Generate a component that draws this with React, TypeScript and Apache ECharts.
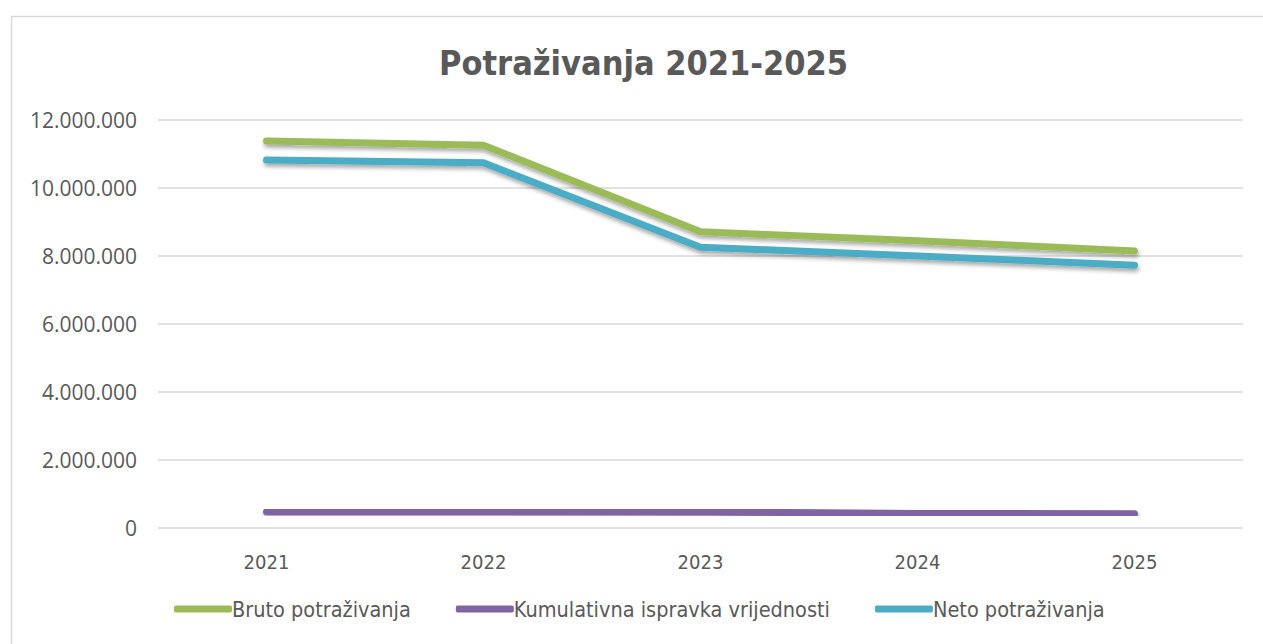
import React, { useEffect, useRef } from "react";
import * as echarts from "echarts";

const categories = ["2021", "2022", "2023", "2024", "2025"];
const bruto = [11380000, 11260000, 8710000, 8450000, 8150000];
const kumulativna = [480000, 480000, 470000, 430000, 420000];
const neto = [10820000, 10740000, 8260000, 8000000, 7730000];
const seriesNames = ["Bruto potraživanja", "Kumulativna ispravka vrijednosti", "Neto potraživanja"];
const colors = ["#9bbb59", "#8064a2", "#4bacc6"];

const fmt = (v: number) => String(Math.round(v)).replace(/\B(?=(\d{3})+(?!\d))/g, ".");
const NARROW = "'DejaVu Sans Condensed', 'DejaVu Sans', sans-serif";

export default function App() {
  const ref = useRef<HTMLDivElement>(null);
  useEffect(() => {
    if (!ref.current) return;
    const chart = echarts.init(ref.current, null, { renderer: "svg" });
    const lineSeries = (name: string, data: number[], color: string) => ({
      name,
      type: "line",
      data,
      symbol: "none",
      lineStyle: {
        color,
        width: 7,
        cap: "round",
        join: "round",
        shadowColor: "rgba(0,0,0,0.35)",
        shadowBlur: 4,
        shadowOffsetY: 3,
        shadowOffsetX: 1,
      },
      itemStyle: { color },
    });
    chart.setOption({
      animation: false,
      backgroundColor: "#ffffff",
      graphic: [
        {
          type: "rect",
          shape: { x: 11.5, y: 16.5, width: 1300, height: 700 },
          style: { fill: "none", stroke: "#d9d9d9", lineWidth: 1.5 },
          silent: true,
          z: -1,
        },
      ],
      title: {
        text: "Potraživanja 2021-2025",
        left: 434,
        top: 41,
        textStyle: {
          fontFamily: NARROW,
          fontSize: 34,
          fontWeight: "bold",
          color: "#595959",
        },
      },
      grid: { left: 158, right: 20, top: 120, bottom: 116, containLabel: false },
      legend: {
        bottom: 19,
        left: 169,
        itemWidth: 58,
        itemHeight: 7,
        itemGap: 45,
        icon: "roundRect",
        textStyle: {
          fontFamily: NARROW,
          fontSize: 21.5,
          color: "#595959",
          padding: [0, 0, 0, -5],
        },
        data: seriesNames,
      },
      xAxis: {
        type: "category",
        data: categories,
        boundaryGap: true,
        axisLine: { show: false },
        axisTick: { show: false },
        axisLabel: {
          margin: 24,
          fontFamily: NARROW,
          fontSize: 20,
          color: "#595959",
        },
      },
      yAxis: {
        type: "value",
        min: 0,
        max: 12000000,
        interval: 2000000,
        axisLine: { show: false },
        axisTick: { show: false },
        splitLine: { lineStyle: { color: "#d9d9d9", width: 1.5 } },
        axisLabel: {
          margin: 21,
          fontFamily: "'Open Sans', sans-serif",
          fontSize: 21,
          color: "#595959",
          formatter: (v: number) => fmt(v),
        },
      },
      series: [
        lineSeries(seriesNames[0], bruto, colors[0]),
        lineSeries(seriesNames[1], kumulativna, colors[1]),
        lineSeries(seriesNames[2], neto, colors[2]),
      ],
    });
    return () => chart.dispose();
  }, []);
  return (
    <div
      ref={ref}
      style={{ position: "fixed", left: 0, top: 0, width: 1263, height: 644 }}
    />
  );
}
